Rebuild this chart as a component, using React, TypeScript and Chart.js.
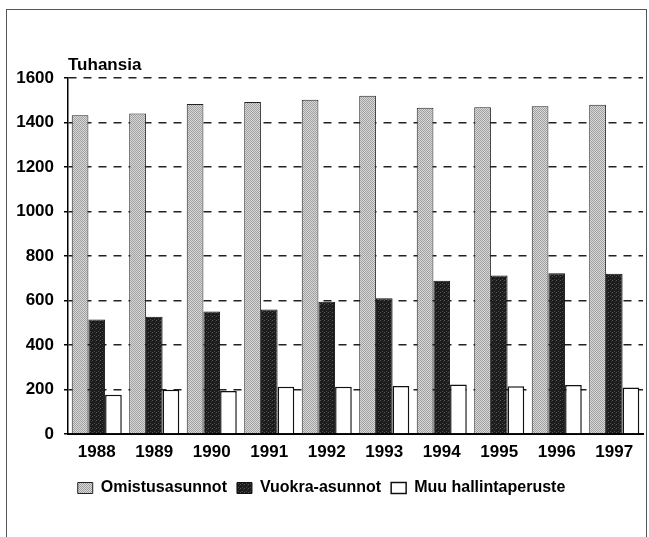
import React, { useEffect, useRef } from "react";
import { Chart, registerables } from "chart.js";

Chart.register(...registerables);

const years = ["1988", "1989", "1990", "1991", "1992", "1993", "1994", "1995", "1996", "1997"];
const omistusasunnot = [1433, 1441, 1483, 1492, 1502, 1520, 1466, 1468, 1473, 1480];
const vuokraAsunnot = [515, 527, 551, 559, 594, 610, 689, 712, 722, 720];
const muuHallintaperuste = [176, 199, 193, 212, 212, 216, 222, 215, 220, 209];
const seriesNames = ["Omistusasunnot", "Vuokra-asunnot", "Muu hallintaperuste"];
const yTitle = "Tuhansia";

const FONT = "'Liberation Sans', Arial, Helvetica, sans-serif";

function makePattern(size: number, base: string, dots: [number, number, string][]) {
  const c = document.createElement("canvas");
  c.width = size;
  c.height = size;
  const x = c.getContext("2d")!;
  x.fillStyle = base;
  x.fillRect(0, 0, size, size);
  for (const [px, py, col] of dots) {
    x.fillStyle = col;
    x.fillRect(px, py, 1, 1);
  }
  return x.createPattern(c, "repeat")!;
}

export default function App() {
  const ref = useRef<HTMLCanvasElement | null>(null);
  useEffect(() => {
    const canvas = ref.current!;
    const grayPat = makePattern(2, "#d8d8d8", [[0, 0, "#a0a0a0"], [1, 1, "#a0a0a0"]]);
    const blackPat = makePattern(4, "#1c1c1c", [[0, 0, "#555"], [2, 3, "#4a4a4a"], [3, 1, "#333"]]);

    const titlePlugin = {
      id: "yTitle",
      afterDraw(chart: any) {
        const { ctx, chartArea } = chart;
        ctx.save();
        ctx.font = `bold 17px ${FONT}`;
        ctx.fillStyle = "#000";
        ctx.textAlign = "left";
        ctx.textBaseline = "alphabetic";
        ctx.fillText(yTitle, chartArea.left, chartArea.top - 8);
        ctx.restore();
      },
    };

    const chart = new Chart(canvas, {
      type: "bar",
      data: {
        labels: years,
        datasets: [
          { label: seriesNames[0], data: omistusasunnot, backgroundColor: grayPat, borderColor: "#222", borderWidth: 1 },
          { label: seriesNames[1], data: vuokraAsunnot, backgroundColor: blackPat, borderColor: "#111", borderWidth: 1 },
          { label: seriesNames[2], data: muuHallintaperuste, backgroundColor: "#fff", borderColor: "#111", borderWidth: 1.5 },
        ],
      },
      options: {
        responsive: false,
        animation: false,
        devicePixelRatio: 1,
        layout: { padding: { left: 0, right: 6, top: 78, bottom: 31 } },
        datasets: { bar: { categoryPercentage: 0.87, barPercentage: 1 } },
        plugins: {
          tooltip: { enabled: false },
          title: { display: false },
          legend: {
            position: "bottom",
            labels: {
              boxWidth: 15,
              boxHeight: 11,
              color: "#000",
              padding: 10,
              font: { family: FONT, size: 16, weight: "bold" },
            },
          },
        },
        scales: {
          x: {
            grid: { display: false, drawTicks: false },
            border: { display: true, color: "#000", width: 2 },
            ticks: { color: "#000", padding: 8, font: { family: FONT, size: 17, weight: "bold" }, maxRotation: 0 },
            afterFit(scale: any) {
              scale.height = 36;
            },
          },
          y: {
            min: 0,
            max: 1600,
            ticks: {
              stepSize: 200,
              color: "#000",
              padding: 10,
              font: { family: FONT, size: 17, weight: "bold" },
              callback: (v: any) => String(v),
            },
            grid: { color: "#222", lineWidth: 1.5, tickLength: 4, tickColor: "#000", tickWidth: 1.5 },
            border: { display: true, color: "#000", width: 1.5, dash: [8, 7] },
            afterFit(scale: any) {
              scale.width = 68;
            },
          },
        },
      },
      plugins: [titlePlugin],
    });
    return () => chart.destroy();
  }, []);

  return (
    <div style={{ position: "fixed", left: 0, top: 0, width: 649, height: 537, background: "#fff" }}>
      <div
        style={{
          position: "absolute",
          left: 6,
          top: 9,
          width: 639,
          height: 560,
          border: "1px solid #555",
        }}
      />
      <canvas ref={ref} width={649} height={537} style={{ position: "absolute", left: 0, top: 0 }} />
    </div>
  );
}
